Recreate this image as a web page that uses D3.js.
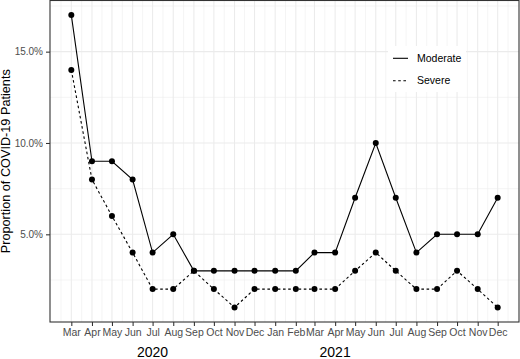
<!DOCTYPE html>
<html>
<head>
<meta charset="utf-8">
<script src="https://cdn.jsdelivr.net/npm/d3@7"></script>
<style>
  body { margin: 0; background: #fff; }
  svg { display: block; font-family: "Liberation Sans", Arial, sans-serif; }
  .axis path { display: none; }
  .axis line { stroke: #333333; stroke-width: 1.07; }
  .axis text { fill: #4d4d4d; }
</style>
</head>
<body>
<svg id="chart"></svg>
<script>
const months = ["2020-03", "2020-04", "2020-05", "2020-06", "2020-07", "2020-08", "2020-09", "2020-10", "2020-11", "2020-12",
  "2021-01", "2021-02", "2021-03", "2021-04", "2021-05", "2021-06", "2021-07", "2021-08", "2021-09", "2021-10", "2021-11", "2021-12"];
const moderate = [17, 9, 9, 8, 4, 5, 3, 3, 3, 3, 3, 3, 4, 4, 7, 10, 7, 4, 5, 5, 5, 7];
const severe = [14, 8, 6, 4, 2, 2, 3, 2, 1, 2, 2, 2, 2, 2, 3, 4, 3, 2, 2, 3, 2, 1];
const yTicks = [5, 10, 15];
const yMinor = [2.5, 7.5, 12.5, 17.5];
const years = [{ label: "2020", at: "2020-07" }, { label: "2021", at: "2021-04" }];

const drawWidth = 520;
const drawHeight = 359;
const panel = { left: 50, top: 0.5, right: 519, bottom: 322 };

const parseMonth = d3.timeParse("%Y-%m");
const dates = months.map(parseMonth);

const svg = d3.select("#chart").attr("width", drawWidth).attr("height", drawHeight);

// ggplot style 5% expansion on both axes
const xExt = d3.extent(dates);
const xPad = (xExt[1] - xExt[0]) * 0.05;
const xScale = d3.scaleTime()
  .domain([new Date(+xExt[0] - xPad), new Date(+xExt[1] + xPad)])
  .range([panel.left, panel.right]);

const allVals = moderate.concat(severe);
const yMin = d3.min(allVals), yMax = d3.max(allVals);
const yPad = (yMax - yMin) * 0.05;
const yScale = d3.scaleLinear()
  .domain([yMin - yPad, yMax + yPad])
  .range([panel.bottom, panel.top]);

// grid
const grid = svg.append("g");
const xMinor = dates.slice(1).map((d, i) => new Date((+d + +dates[i]) / 2));
xMinor.unshift(new Date(+dates[0] - (dates[1] - dates[0]) / 2));
xMinor.push(new Date(+dates[dates.length - 1] + (dates[1] - dates[0]) / 2));

grid.selectAll(".xminor").data(xMinor).enter().append("line")
  .attr("x1", (d) => xScale(d)).attr("x2", (d) => xScale(d))
  .attr("y1", panel.top).attr("y2", panel.bottom)
  .attr("stroke", "#ebebeb").attr("stroke-width", 0.55);
grid.selectAll(".yminor").data(yMinor).enter().append("line")
  .attr("x1", panel.left).attr("x2", panel.right)
  .attr("y1", (d) => yScale(d)).attr("y2", (d) => yScale(d))
  .attr("stroke", "#ebebeb").attr("stroke-width", 0.55);
grid.selectAll(".xmajor").data(dates).enter().append("line")
  .attr("x1", (d) => xScale(d)).attr("x2", (d) => xScale(d))
  .attr("y1", panel.top).attr("y2", panel.bottom)
  .attr("stroke", "#ebebeb").attr("stroke-width", 1.07);
grid.selectAll(".ymajor").data(yTicks).enter().append("line")
  .attr("x1", panel.left).attr("x2", panel.right)
  .attr("y1", (d) => yScale(d)).attr("y2", (d) => yScale(d))
  .attr("stroke", "#ebebeb").attr("stroke-width", 1.07);

// lines + points
const line = d3.line()
  .x((d, i) => xScale(dates[i]))
  .y((d) => yScale(d));

const series = [
  { name: "Moderate", values: moderate, dash: null },
  { name: "Severe", values: severe, dash: "2.6,2.6" },
];

series.forEach((s) => {
  svg.append("path")
    .datum(s.values)
    .attr("fill", "none")
    .attr("stroke", "#000")
    .attr("stroke-width", 1.1)
    .attr("stroke-dasharray", s.dash)
    .attr("d", line);
  svg.append("g").selectAll("circle").data(s.values).enter().append("circle")
    .attr("cx", (d, i) => xScale(dates[i]))
    .attr("cy", (d) => yScale(d))
    .attr("r", 3)
    .attr("fill", "#000");
});

// panel border
svg.append("rect")
  .attr("x", panel.left).attr("y", panel.top)
  .attr("width", panel.right - panel.left).attr("height", panel.bottom - panel.top)
  .attr("fill", "none").attr("stroke", "#333333").attr("stroke-width", 1.1);

// axes
const yAxis = d3.axisLeft(yScale)
  .tickValues(yTicks)
  .tickFormat((d) => d3.format(".1f")(d) + "%")
  .tickSize(4).tickPadding(3);
svg.append("g").attr("class", "y axis")
  .attr("transform", "translate(" + panel.left + ",0)")
  .call(yAxis)
  .selectAll("text").style("font-size", "10px");

const xAxis = d3.axisBottom(xScale)
  .tickValues(dates)
  .tickFormat(d3.timeFormat("%b"))
  .tickSize(4).tickPadding(3);
svg.append("g").attr("class", "x axis")
  .attr("transform", "translate(0," + panel.bottom + ")")
  .call(xAxis)
  .selectAll("text").style("font-size", "10.5px");

// year labels
svg.selectAll(".year").data(years).enter().append("text")
  .attr("x", (d) => xScale(parseMonth(d.at)))
  .attr("y", 357)
  .attr("text-anchor", "middle")
  .style("font-size", "14px")
  .attr("fill", "#000")
  .text((d) => d.label);

// y title
svg.append("text")
  .attr("transform", "translate(10," + (panel.top + panel.bottom) / 2 + ") rotate(-90)")
  .attr("text-anchor", "middle")
  .style("font-size", "12.7px")
  .attr("fill", "#000")
  .text("Proportion of COVID-19 Patients");

// legend
const legend = svg.append("g").attr("transform", "translate(388,46)");
legend.append("rect")
  .attr("x", 0).attr("y", 0).attr("width", 78).attr("height", 46)
  .attr("fill", "#fff");
series.forEach((s, i) => {
  const ly = 12.3 + i * 22.4;
  legend.append("line")
    .attr("x1", 5).attr("x2", 20)
    .attr("y1", ly).attr("y2", ly)
    .attr("stroke", "#000").attr("stroke-width", 1.1)
    .attr("stroke-dasharray", s.dash);
  legend.append("text")
    .attr("x", 29).attr("y", ly + 3.6)
    .style("font-size", "10.5px")
    .attr("fill", "#000")
    .text(s.name);
});
</script>
</body>
</html>
